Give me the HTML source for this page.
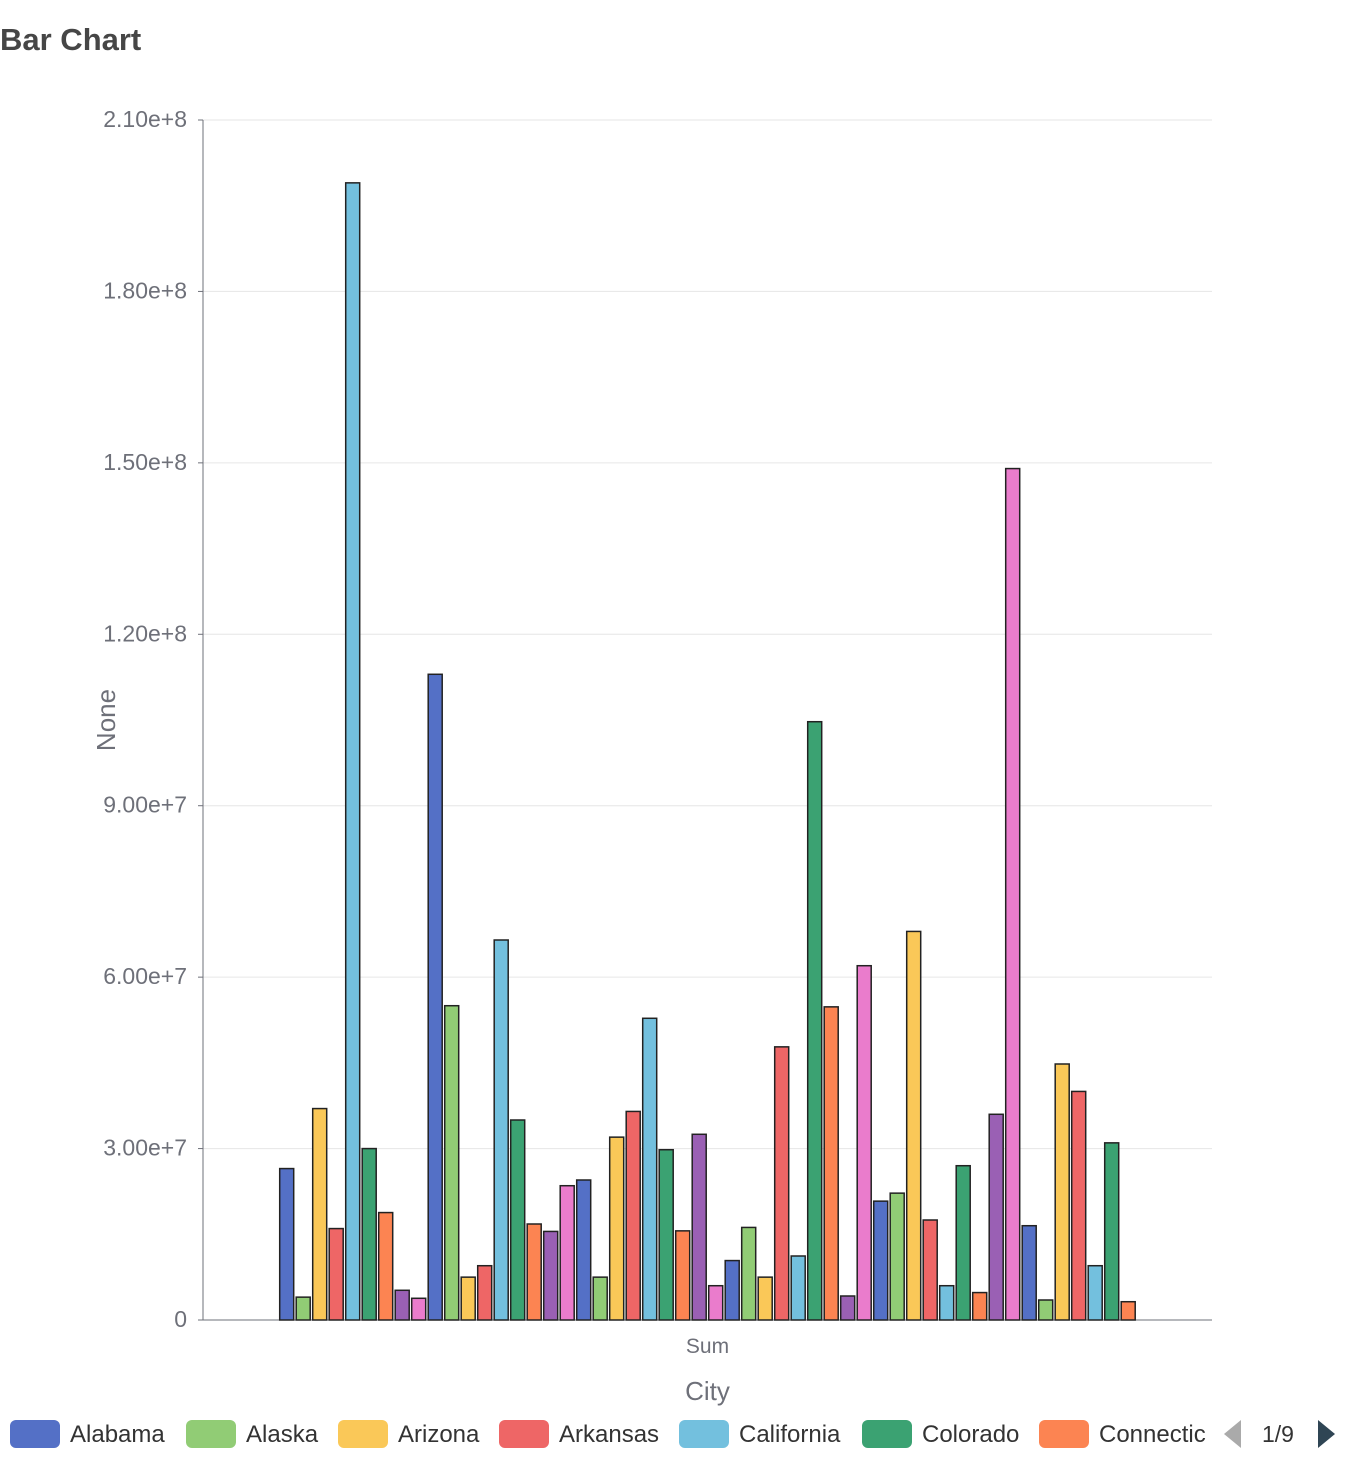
<!DOCTYPE html>
<html><head><meta charset="utf-8"><style>
body{margin:0;background:#fff;font-family:"Liberation Sans",sans-serif;}
</style></head><body>
<svg id="chart" width="1346" height="1460" xmlns="http://www.w3.org/2000/svg">
<text x="0" y="50" font-size="31" font-weight="bold" fill="#464646">Bar Chart</text>
<g id="grid"></g><g id="bars"></g><g id="legend"></g>
</svg>
<script>
const categories=["Sum"];
const seriesNames=["Alabama","Alaska","Arizona","Arkansas","California","Colorado","Connecticut","Delaware","District of Columbia","Florida","Georgia","Hawaii","Idaho","Illinois","Indiana","Iowa","Kansas","Kentucky","Louisiana","Maine","Maryland","Massachusetts","Michigan","Minnesota","Mississippi","Missouri","Montana","Nebraska","Nevada","New Hampshire","New Jersey","New Mexico","New York","North Carolina","North Dakota","Ohio","Oklahoma","Oregon","Pennsylvania","Puerto Rico","Rhode Island","South Carolina","South Dakota","Tennessee","Texas","Utah","Vermont","Virginia","Washington","West Virginia","Wisconsin","Wyoming"];
const seriesValues=[2.65e7,0.4e7,3.7e7,1.6e7,1.99e8,3.0e7,1.88e7,0.52e7,0.38e7,1.13e8,5.5e7,0.75e7,0.95e7,6.65e7,3.5e7,1.68e7,1.55e7,2.35e7,2.45e7,0.75e7,3.2e7,3.65e7,5.28e7,2.98e7,1.56e7,3.25e7,0.6e7,1.04e7,1.62e7,0.75e7,4.78e7,1.12e7,1.047e8,5.48e7,0.42e7,6.2e7,2.08e7,2.22e7,6.8e7,1.75e7,0.6e7,2.7e7,0.48e7,3.6e7,1.49e8,1.65e7,0.35e7,4.48e7,4.0e7,0.95e7,3.1e7,0.32e7];
const tickValues=[0,3e7,6e7,9e7,1.2e8,1.5e8,1.8e8,2.1e8];
const tickLabels=["0","3.00e+7","6.00e+7","9.00e+7","1.20e+8","1.50e+8","1.80e+8","2.10e+8"];
const palette=["#5470c6","#91cc75","#fac858","#ee6666","#73c0de","#3ba272","#fc8452","#9a60b4","#ea7ccc"];
const NS="http://www.w3.org/2000/svg";
const X0=203,X1=1212,Y0=1320,Y1=120,YMAX=2.1e8;
const y=v=>Y0-(v/YMAX)*(Y0-Y1);
function mk(t,a,p){const e=document.createElementNS(NS,t);for(const k in a)e.setAttribute(k,a[k]);p.appendChild(e);return e;}
const grid=document.getElementById('grid');
tickValues.forEach((v,i)=>{
  const l=mk('line',{x1:X0,x2:X1,y1:y(v),y2:y(v),stroke:i?"#e6e6e6":"#6e7079","stroke-width":1},grid);
  
  
  const t=mk('text',{x:187,y:y(v)+7,"text-anchor":"end","font-size":23,fill:"#6e7079"},grid);
  t.textContent=tickLabels[i];
  
  
  const tk=mk('line',{x1:X0-5,x2:X0,y1:y(v),y2:y(v),stroke:"#6e7079"},grid);
  
  
});
const ya=mk('line',{x1:X0,x2:X0,y1:Y1,y2:Y0,stroke:"#6e7079"},grid);


const xt=mk('text',{x:(X0+X1)/2,y:1353,"text-anchor":"middle","font-size":21,fill:"#6e7079"},grid);
xt.textContent=categories[0];


const xat=mk('text',{x:(X0+X1)/2,y:1400,"text-anchor":"middle","font-size":26,fill:"#6e7079"},grid);
xat.textContent="City";


const yat=mk('text',{x:0,y:0,"text-anchor":"middle","font-size":26,fill:"#6e7079",transform:"translate(115,720) rotate(-90)"},grid);
yat.textContent="None";


const bars=document.getElementById('bars');
const n=seriesValues.length,step=16.5,bw=14,start=(X0+X1)/2-n*step/2+1.2;
seriesValues.forEach((v,i)=>{
  const r=mk('rect',{x:start+i*step,y:y(v),width:bw,height:Y0-y(v),fill:palette[i%9],stroke:"#222","stroke-width":1.5},bars);
  
  
});
const lg=document.getElementById('legend');
const lx=[10,186,338,499,679,862,1039];
for(let i=0;i<7;i++){
  const s=mk('rect',{x:lx[i],y:1420,width:50,height:28,rx:6,fill:palette[i]},lg);
  
  
  const t=mk('text',{x:lx[i]+60,y:1442,"font-size":24,fill:"#333"},lg);
  t.textContent=i==6?"Connectic":seriesNames[i];
  
  
}
const pv=mk('path',{d:"M1241,1420 L1224,1434 L1241,1448 Z",fill:"#aaa"},lg);


const pg=mk('text',{x:1278,y:1442,"text-anchor":"middle","font-size":23,fill:"#333"},lg);
pg.textContent="1/9";


const nx=mk('path',{d:"M1318,1420 L1335,1434 L1318,1448 Z",fill:"#2f4554"},lg);


</script>
</body></html>
